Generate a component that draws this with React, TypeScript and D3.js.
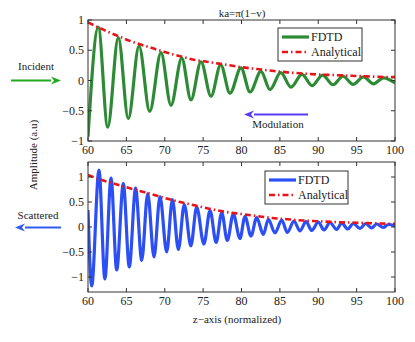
import React from "react";
import * as d3 from "d3";

// z positions / amplitudes of the extrema
const incidentZ = [60, 61.34, 62.57, 63.95, 65.25, 66.65, 68.04, 69.51, 70.81, 72.21, 73.42, 74.72, 76.03, 77.29, 78.5, 79.93, 81.11, 82.54, 83.71, 85.11, 86.45, 87.88, 89.19, 90.56, 91.92, 93.23, 94.53, 95.9, 97.2, 98.5, 100];
const incidentA = [-0.93, 0.88, -0.77, 0.71, -0.63, 0.57, -0.51, 0.46, -0.41, 0.37, -0.32, 0.31, -0.26, 0.26, -0.21, 0.21, -0.19, 0.15, -0.15, 0.13, -0.11, 0.1, -0.085, 0.09, -0.07, 0.07, -0.065, 0.06, -0.055, 0.045, -0.04];

const scatteredZ = [60, 60.48, 61.43, 62.2, 63.0, 63.74, 64.6, 65.38, 66.2, 67.0, 67.78, 68.6, 69.38, 70.25, 71.0, 71.77, 72.55, 73.4, 74.16, 75.1, 75.9, 76.7, 77.42, 78.15, 78.93, 79.8, 80.45, 81.24, 81.98, 82.84, 83.5, 84.36, 85.24, 85.97, 86.84, 87.62, 88.4, 89.15, 90.0, 90.75, 91.53, 92.4, 93.05, 93.84, 94.57, 95.44, 96.18, 96.96, 97.6, 98.48, 99.13, 100];
const scatteredA = [0.34, -1.18, 1.14, -1.04, 0.98, -0.86, 0.87, -0.8, 0.78, -0.67, 0.67, -0.6, 0.61, -0.5, 0.55, -0.45, 0.45, -0.38, 0.4, -0.34, 0.33, -0.31, 0.29, -0.27, 0.26, -0.23, 0.21, -0.18, 0.19, -0.15, 0.155, -0.12, 0.14, -0.11, 0.12, -0.08, 0.11, -0.07, 0.1, -0.06, 0.09, -0.05, 0.08, -0.04, 0.07, -0.03, 0.07, -0.02, 0.06, -0.01, 0.05, 0.02];

const analyticZ = [60, 62, 64, 66, 68, 70, 72, 74, 76, 78, 80, 82, 84, 86, 88, 90, 92, 94, 96, 98, 100];
const analyticTop = [0.96, 0.84, 0.73, 0.63, 0.55, 0.47, 0.4, 0.34, 0.3, 0.26, 0.22, 0.19, 0.16, 0.135, 0.115, 0.1, 0.09, 0.08, 0.07, 0.06, 0.055];
const analyticBottom = [1.04, 0.93, 0.84, 0.75, 0.67, 0.58, 0.5, 0.43, 0.36, 0.3, 0.26, 0.22, 0.18, 0.155, 0.13, 0.115, 0.1, 0.09, 0.08, 0.07, 0.065];

const xTicks = [60, 65, 70, 75, 80, 85, 90, 95, 100];
const topYTicks = [-1, -0.5, 0, 0.5, 1];
const bottomYTicks = [-1, -0.5, 0, 0.5, 1];

const FONT = "'Liberation Serif', 'Times New Roman', serif";
const AXIS = "#333";
const RED = "#e8141a";
const fmt = (d: number) => (d < 0 ? "\u2212" + Math.abs(d) : String(d));

type PanelProps = {
  top: number;
  bottom: number;
  yDomain: [number, number];
  yTicks: number[];
  zs: number[];
  amps: number[];
  analytic: number[];
  color: string;
  legend: { x: number; y: number; w: number; h: number };
};

const Panel = ({ top, bottom, yDomain, yTicks, zs, amps, analytic, color, legend }: PanelProps) => {
  const x = d3.scaleLinear().domain([60, 100]).range([88, 395]);
  const y = d3.scaleLinear().domain(yDomain).range([bottom, top]);
  const line = d3
    .line<number>()
    .x((_, i) => x(zs[i]))
    .y((d) => y(d))
    .curve(d3.curveMonotoneX);
  const aLine = d3
    .line<number>()
    .x((_, i) => x(analyticZ[i]))
    .y((d) => y(d))
    .curve(d3.curveMonotoneX);
  const [x0, x1] = x.range();
  const tl = 4;
  return (
    <g>
      <defs>
        <clipPath id={"clip" + top}>
          <rect x={x0} y={top} width={x1 - x0} height={bottom - top} />
        </clipPath>
      </defs>
      <g clipPath={`url(#clip${top})`}>
        <path d={line(amps) || ""} fill="none" stroke={color} strokeWidth={3.2} />
        <path d={aLine(analytic) || ""} fill="none" stroke={RED} strokeWidth={2.6} strokeDasharray="6 3 1.5 3" />
      </g>
      <rect x={x0} y={top} width={x1 - x0} height={bottom - top} fill="none" stroke={AXIS} strokeWidth={1} />
      {xTicks.map((t) => (
        <g key={"x" + t}>
          <line x1={x(t)} x2={x(t)} y1={bottom} y2={bottom - tl} stroke={AXIS} />
          <line x1={x(t)} x2={x(t)} y1={top} y2={top + tl} stroke={AXIS} />
          <text x={x(t)} y={bottom + 13} textAnchor="middle" fontSize={12} fontFamily={FONT} fill="#222">
            {t}
          </text>
        </g>
      ))}
      {yTicks.map((t) => (
        <g key={"y" + t}>
          <line x1={x0} x2={x0 + tl} y1={y(t)} y2={y(t)} stroke={AXIS} />
          <line x1={x1} x2={x1 - tl} y1={y(t)} y2={y(t)} stroke={AXIS} />
          <text x={x0 - 4} y={y(t) + 4} textAnchor="end" fontSize={12} fontFamily={FONT} fill="#222">
            {fmt(t)}
          </text>
        </g>
      ))}
      <g>
        <rect x={legend.x} y={legend.y} width={legend.w} height={legend.h} fill="#fff" stroke={AXIS} />
        <line x1={legend.x + 4} x2={legend.x + 31} y1={legend.y + 9} y2={legend.y + 9} stroke={color} strokeWidth={3.2} />
        <text x={legend.x + 33} y={legend.y + 13} fontSize={12} fontFamily={FONT} fill="#222">
          FDTD
        </text>
        <line x1={legend.x + 4} x2={legend.x + 31} y1={legend.y + 24} y2={legend.y + 24} stroke={RED} strokeWidth={2.6} strokeDasharray="6 3 1.5 3" />
        <text x={legend.x + 33} y={legend.y + 28} fontSize={12} fontFamily={FONT} fill="#222">
          Analytical
        </text>
      </g>
    </g>
  );
};

const Arrow = ({ x1, x2, y, color }: { x1: number; x2: number; y: number; color: string }) => {
  const dir = x2 > x1 ? 1 : -1;
  const hx = x2 - dir * 10;
  return (
    <g>
      <line x1={x1} x2={hx} y1={y} y2={y} stroke={color} strokeWidth={2} />
      <path d={`M${x2},${y} L${hx},${y - 4} L${hx + dir * 3},${y} L${hx},${y + 4} Z`} fill={color} />
    </g>
  );
};

export default function App() {
  return (
    <svg width={415} height={342} style={{ position: "absolute", left: 0, top: 0, background: "#fff" }}>
      <text x={242} y={17} textAnchor="middle" fontSize={11} fontFamily={FONT} fill="#222">
        ka=π(1−v)
      </text>
      <Panel
        top={20}
        bottom={141}
        yDomain={[-1, 1]}
        yTicks={topYTicks}
        zs={incidentZ}
        amps={incidentA}
        analytic={analyticTop}
        color="#2e8b35"
        legend={{ x: 278, y: 28, w: 84, h: 33 }}
      />
      <Panel
        top={162}
        bottom={292}
        yDomain={[-1.3, 1.3]}
        yTicks={bottomYTicks}
        zs={scatteredZ}
        amps={scatteredA}
        analytic={analyticBottom}
        color="#2b4ff5"
        legend={{ x: 265, y: 171, w: 83, h: 33 }}
      />
      <text x={36} y={70} textAnchor="middle" fontSize={11} fontFamily={FONT} fill="#222">
        Incident
      </text>
      <Arrow x1={11} x2={61} y={80.5} color="#22aa22" />
      <text x={38} y={219} textAnchor="middle" fontSize={11} fontFamily={FONT} fill="#222">
        Scattered
      </text>
      <Arrow x1={61} x2={15} y={227.5} color="#2f5cf0" />
      <text x={278} y={128} textAnchor="middle" fontSize={11} fontFamily={FONT} fill="#222">
        Modulation
      </text>
      <Arrow x1={308} x2={244} y={114.5} color="#5a3cf0" />
      <text
        transform="translate(37,155) rotate(-90)"
        textAnchor="middle"
        fontSize={11}
        fontFamily={FONT}
        fill="#222"
      >
        Amplitude (a.u)
      </text>
      <text x={237} y={323} textAnchor="middle" fontSize={11} fontFamily={FONT} fill="#222">
        z−axis (normalized)
      </text>
    </svg>
  );
}
